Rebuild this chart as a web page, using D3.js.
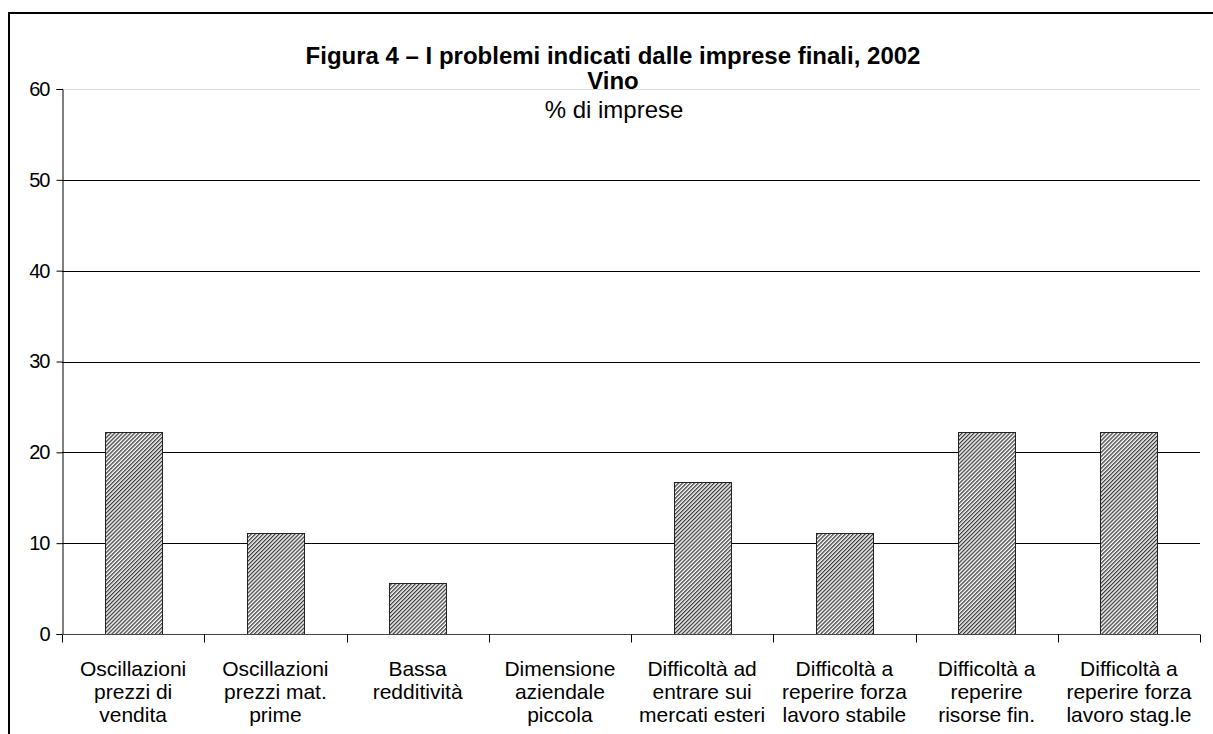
<!DOCTYPE html>
<html>
<head>
<meta charset="utf-8">
<script src="https://cdn.jsdelivr.net/npm/d3@7"></script>
<style>
  body { margin: 0; background: #fff; }
  text { font-family: "Liberation Sans", Arial, sans-serif; fill: #000; }
</style>
</head>
<body>
<div id="chart"></div>
<script>
// canvas size
var width = 1213,
    height = 734;

var margin = { top: 89, right: 13, bottom: 100, left: 62 };

// data (% di imprese)
var categories = [
  ["Oscillazioni", "prezzi di", "vendita"],
  ["Oscillazioni", "prezzi mat.", "prime"],
  ["Bassa", "redditività"],
  ["Dimensione", "aziendale", "piccola"],
  ["Difficoltà ad", "entrare sui", "mercati esteri"],
  ["Difficoltà a", "reperire forza", "lavoro stabile"],
  ["Difficoltà a", "reperire", "risorse fin."],
  ["Difficoltà a", "reperire forza", "lavoro stag.le"]
];
var values = [22.2, 11.1, 5.6, 0, 16.7, 11.1, 22.2, 22.2];
var yTicks = [0, 10, 20, 30, 40, 50, 60];

var svg = d3.select("#chart")
  .append("svg")
  .attr("width", width)
  .attr("height", height);

// hatched fill for the bars
var defs = svg.append("defs");
var pat = defs.append("pattern")
  .attr("id", "hatch")
  .attr("patternUnits", "userSpaceOnUse")
  .attr("width", 2.8)
  .attr("height", 2.8)
  .attr("patternTransform", "rotate(45)");
pat.append("rect").attr("width", 2.8).attr("height", 2.8).attr("fill", "#fff");
pat.append("rect").attr("width", 1.3).attr("height", 2.8).attr("fill", "#3a3a3a");

// outer frame (left and top only visible)
svg.append("path")
  .attr("d", "M9,734 V13 H1213")
  .attr("fill", "none")
  .attr("stroke", "#000")
  .attr("stroke-width", 2);

var innerW = width - margin.left - margin.right,
    innerH = height - margin.top - margin.bottom;

// titles (the plot area is drawn over the bottom of "Vino")
svg.append("text")
  .attr("x", 613).attr("y", 64)
  .attr("text-anchor", "middle")
  .style("font-size", "24px")
  .style("font-weight", "bold")
  .text("Figura 4 \u2013 I problemi indicati dalle imprese finali, 2002");
svg.append("text")
  .attr("x", 613).attr("y", 89)
  .attr("text-anchor", "middle")
  .style("font-size", "24px")
  .style("font-weight", "bold")
  .text("Vino");

var g = svg.append("g")
  .attr("transform", "translate(" + margin.left + "," + margin.top + ")");

g.append("rect")
  .attr("y", 1)
  .attr("width", innerW)
  .attr("height", innerH - 1)
  .attr("fill", "#fff");

var x = d3.scaleBand()
  .domain(d3.range(categories.length))
  .range([0, innerW])
  .paddingInner(0.6)
  .paddingOuter(0.3);

var xTicks = d3.scaleBand()
  .domain(d3.range(categories.length))
  .range([0, innerW]);

var y = d3.scaleLinear()
  .domain([0, 60])
  .range([innerH, 0]);

// gridlines
g.selectAll(".grid")
  .data(yTicks.filter(function(d) { return d > 0; }))
  .enter().append("line")
  .attr("x1", 0)
  .attr("x2", innerW)
  .attr("y1", function(d) { return Math.round(y(d)) + 0.5; })
  .attr("y2", function(d) { return Math.round(y(d)) + 0.5; })
  .attr("stroke", function(d) { return d === 60 ? "#ddd" : "#000"; })
  .attr("stroke-width", 1);

// bars
g.selectAll(".bar")
  .data(values)
  .enter().append("rect")
  .attr("x", function(d, i) { return Math.round(x(i)) + 0.5; })
  .attr("y", function(d) { return Math.round(y(d)) + 0.5; })
  .attr("width", Math.round(x.bandwidth()))
  .attr("height", function(d) { return Math.round(innerH - y(d)); })
  .attr("fill", "url(#hatch)")
  .attr("stroke", function(d) { return d > 0 ? "#222" : "none"; })
  .attr("stroke-width", 1);

// y axis
var yAxis = g.append("g")
  .attr("transform", "translate(0.5,0)")
  .call(d3.axisLeft(y).tickValues(yTicks).tickSize(6).tickPadding(7));
yAxis.select(".domain").attr("stroke", "#000");
yAxis.selectAll(".tick line").attr("stroke", "#000");
yAxis.selectAll(".tick text")
  .style("font-size", "20px")
  .style("letter-spacing", "-1px")
  .style("font-family", "Liberation Sans, Arial, sans-serif")
  .attr("fill", "#000");

// x axis: line with ticks between categories
var xAxis = g.append("g")
  .attr("transform", "translate(0," + (Math.round(innerH) + 0.5) + ")");
xAxis.append("line")
  .attr("x1", 0).attr("x2", innerW)
  .attr("stroke", "#444");
xAxis.selectAll(".xt")
  .data(d3.range(categories.length + 1))
  .enter().append("line")
  .attr("x1", function(d) { return Math.round(d * xTicks.step()) + 0.5; })
  .attr("x2", function(d) { return Math.round(d * xTicks.step()) + 0.5; })
  .attr("y1", 0).attr("y2", 8)
  .attr("stroke", "#000");

// category labels
var lab = xAxis.selectAll(".lab")
  .data(categories)
  .enter().append("text")
  .attr("text-anchor", "middle")
  .style("font-size", "21px")
  .attr("transform", function(d, i) {
    return "translate(" + (xTicks(i) + xTicks.bandwidth() / 2) + ",41)";
  });
lab.selectAll("tspan")
  .data(function(d) { return d; })
  .enter().append("tspan")
  .attr("x", 0)
  .attr("dy", function(d, i) { return i === 0 ? 0 : 23; })
  .text(function(d) { return d; });

svg.append("text")
  .attr("x", 614).attr("y", 118)
  .attr("text-anchor", "middle")
  .style("font-size", "24px")
  .text("% di imprese");
</script>
</body>
</html>
